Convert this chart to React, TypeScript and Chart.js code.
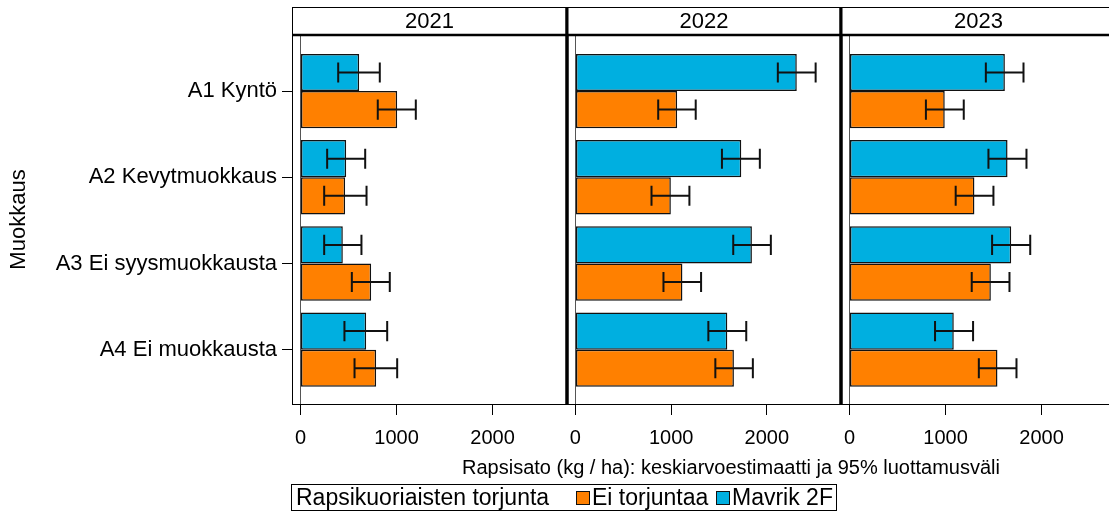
import React, { useEffect, useRef } from "react";
import { Chart, registerables } from "chart.js";

Chart.register(...registerables);

const FONT = "'Liberation Sans', Arial, sans-serif";

const categories = ["A1 Kyntö", "A2 Kevytmuokkaus", "A3 Ei syysmuokkausta", "A4 Ei muokkausta"];
const years = ["2021", "2022", "2023"];
const xTicks = [0, 1000, 2000];
const seriesNames = ["Mavrik 2F", "Ei torjuntaa"];
const legendTitle = "Rapsikuoriaisten torjunta";
const xTitle = "Rapsisato (kg / ha): keskiarvoestimaatti ja 95% luottamusväli";
const yTitle = "Muokkaus";

// 2021
const mavrik2021 = [611, 476, 441, 684];
const mavrikLo2021 = [393, 278, 247, 458];
const mavrikHi2021 = [826, 674, 635, 903];
const ei2021 = [1007, 465, 736, 788];
const eiLo2021 = [805, 247, 535, 563];
const eiHi2021 = [1201, 688, 930, 1007];

// 2022
const mavrik2022 = [2313, 1733, 1844, 1587];
const mavrikLo2022 = [2115, 1531, 1649, 1389];
const mavrikHi2022 = [2510, 1927, 2042, 1785];
const ei2022 = [1063, 997, 1118, 1656];
const eiLo2022 = [865, 795, 920, 1462];
const eiHi2022 = [1257, 1191, 1313, 1854];

// 2023
const mavrik2023 = [1618, 1646, 1684, 1086];
const mavrikLo2023 = [1420, 1447, 1485, 891];
const mavrikHi2023 = [1812, 1843, 1882, 1287];
const ei2023 = [992, 1301, 1472, 1541];
const eiLo2023 = [796, 1106, 1273, 1347];
const eiHi2023 = [1190, 1499, 1666, 1739];

const panels = [
  { year: years[0], mavrik: mavrik2021, mavrikLo: mavrikLo2021, mavrikHi: mavrikHi2021, ei: ei2021, eiLo: eiLo2021, eiHi: eiHi2021 },
  { year: years[1], mavrik: mavrik2022, mavrikLo: mavrikLo2022, mavrikHi: mavrikHi2022, ei: ei2022, eiLo: eiLo2022, eiHi: eiHi2022 },
  { year: years[2], mavrik: mavrik2023, mavrikLo: mavrikLo2023, mavrikHi: mavrikHi2023, ei: ei2023, eiLo: eiLo2023, eiHi: eiHi2023 },
];

const BLUE = "#00AFE0";
const ORANGE = "#FF8000";
const CW = 1130;
const CH = 515;
const panelPads = [
  { left: 0, right: CW - 567 },
  { left: 567, right: CW - 841 },
  { left: 841, right: CW - 1116 },
];

const errorBarsPlugin = {
  id: "errorBars",
  afterDatasetsDraw(chart: any) {
    const ctx = chart.ctx;
    const xs = chart.scales.x;
    ctx.save();
    ctx.strokeStyle = "#111";
    ctx.lineWidth = 2;
    chart.data.datasets.forEach((ds: any, di: number) => {
      const meta = chart.getDatasetMeta(di);
      meta.data.forEach((bar: any, i: number) => {
        const lo = xs.getPixelForValue(ds.lo[i]);
        const hi = xs.getPixelForValue(ds.hi[i]);
        const y = bar.y;
        const cap = bar.height * 0.27;
        ctx.beginPath();
        ctx.moveTo(lo, y);
        ctx.lineTo(hi, y);
        ctx.moveTo(lo, y - cap);
        ctx.lineTo(lo, y + cap);
        ctx.moveTo(hi, y - cap);
        ctx.lineTo(hi, y + cap);
        ctx.stroke();
      });
    });
    ctx.restore();
  },
};

const panelFramePlugin = {
  id: "panelFrame",
  afterDraw(chart: any, _args: any, opts: any) {
    const ctx = chart.ctx;
    const { left, right, top, bottom } = chart.chartArea;
    const hh = 28;
    const hTop = top - hh;
    ctx.save();
    ctx.fillStyle = "#fff";
    ctx.fillRect(left, hTop, right - left, hh);
    ctx.strokeStyle = "#000";
    ctx.lineWidth = 1;
    ctx.beginPath();
    ctx.moveTo(left, hTop + 0.5);
    ctx.lineTo(right, hTop + 0.5);
    ctx.moveTo(left, bottom + 0.5);
    ctx.lineTo(right, bottom + 0.5);
    if (!opts.thickLeft) {
      ctx.moveTo(left + 0.5, hTop);
      ctx.lineTo(left + 0.5, bottom + 1);
    }
    ctx.stroke();
    ctx.lineWidth = 2.5;
    ctx.beginPath();
    ctx.moveTo(left, top);
    ctx.lineTo(right, top);
    ctx.stroke();
    ctx.lineWidth = 3;
    ctx.beginPath();
    if (opts.thickLeft) {
      ctx.moveTo(left, hTop);
      ctx.lineTo(left, bottom + 1);
    }
    if (opts.thickRight) {
      ctx.moveTo(right, hTop);
      ctx.lineTo(right, bottom + 1);
    }
    ctx.stroke();
    ctx.fillStyle = "#000";
    ctx.font = `22px ${FONT}`;
    ctx.textAlign = "center";
    ctx.textBaseline = "middle";
    ctx.fillText(opts.title, (left + right) / 2, hTop + hh / 2 + 1);
    ctx.restore();
  },
};

function makeConfig(pi: number): any {
  const p = panels[pi];
  const showY = pi === 0;
  return {
    type: "bar",
    data: {
      datasets: [
        {
          label: seriesNames[0],
          data: p.mavrik.map((v, k) => ({ x: v, y: k + 1 })),
          lo: p.mavrikLo,
          hi: p.mavrikHi,
          backgroundColor: BLUE,
          borderColor: "#111",
          borderWidth: 1.5,
          borderSkipped: false,
        },
        {
          label: seriesNames[1],
          data: p.ei.map((v, k) => ({ x: v, y: k + 1 })),
          lo: p.eiLo,
          hi: p.eiHi,
          backgroundColor: ORANGE,
          borderColor: "#111",
          borderWidth: 1.5,
          borderSkipped: false,
        },
      ],
    },
    options: {
      responsive: false,
      animation: false,
      indexAxis: "y",
      categoryPercentage: 0.862,
      barPercentage: 1,
      layout: { padding: { left: panelPads[pi].left, right: panelPads[pi].right, top: 35, bottom: 0 } },
      scales: {
        x: {
          type: "linear",
          min: -88,
          max: 2775,
          afterBuildTicks: (s: any) => {
            s.ticks = xTicks.map((v) => ({ value: v }));
          },
          afterFit: (s: any) => {
            s.height = 111;
          },
          grid: {
            drawOnChartArea: true,
            color: (c: any) => (c.tick && c.tick.value === 0 ? "#555" : "rgba(0,0,0,0)"),
            tickColor: "#000",
            tickLength: 11,
            lineWidth: 1,
          },
          border: { display: false },
          ticks: {
            color: "#000",
            font: { family: FONT, size: 20 },
            padding: 11,
            maxRotation: 0,
            autoSkip: false,
            callback: (v: any) => String(v),
          },
        },
        y: {
          type: "linear",
          reverse: true,
          offset: false,
          min: 0.35,
          max: 4.63,
          display: showY,
          afterBuildTicks: (s: any) => {
            s.ticks = categories.map((_, k) => ({ value: k + 1 }));
          },
          afterFit: (s: any) => {
            if (showY) s.width = 292;
          },
          grid: { drawOnChartArea: false, offset: false, tickLength: 10, tickColor: "#000" },
          border: { display: false },
          ticks: {
            color: "#000",
            font: { family: FONT, size: 22 },
            padding: 5,
            autoSkip: false,
            callback: (v: any) => categories[Math.round(v) - 1],
          },
          title: {
            display: true,
            text: yTitle,
            color: "#000",
            font: { family: FONT, size: 22 },
            padding: { top: 6, bottom: 0 },
          },
        },
      },
      plugins: {
        legend: { display: false },
        tooltip: { enabled: false },
        panelFrame: { title: p.year, thickLeft: pi > 0, thickRight: pi < 2 },
      },
    },
    plugins: [errorBarsPlugin, panelFramePlugin],
  };
}

export default function App() {
  const r0 = useRef<HTMLCanvasElement>(null);
  const r1 = useRef<HTMLCanvasElement>(null);
  const r2 = useRef<HTMLCanvasElement>(null);

  useEffect(() => {
    const refs = [r0, r1, r2];
    const charts = refs.map((r, i) => new Chart(r.current as HTMLCanvasElement, makeConfig(i)));
    return () => charts.forEach((c) => c.destroy());
  }, []);

  const canvasStyle: React.CSSProperties = { position: "absolute", left: 0, top: 0, width: CW, height: CH };
  const textStyle: React.CSSProperties = { fontFamily: FONT, fontSize: 20, color: "#000", whiteSpace: "nowrap", lineHeight: "24px" };
  const legendText: React.CSSProperties = { ...textStyle, fontSize: 23, lineHeight: "25px", position: "absolute", top: 0 };
  const square = (color: string, left: number): React.CSSProperties => ({
    position: "absolute",
    left,
    top: 6,
    width: 12,
    height: 12,
    background: color,
    border: "1px solid #111",
  });

  return (
    <div style={{ position: "absolute", left: 0, top: 0, width: 1109, height: 515, overflow: "hidden", background: "#fff" }}>
      <canvas ref={r0} width={CW} height={CH} style={canvasStyle} />
      <canvas ref={r1} width={CW} height={CH} style={canvasStyle} />
      <canvas ref={r2} width={CW} height={CH} style={canvasStyle} />
      <div style={{ ...textStyle, position: "absolute", left: 731, top: 455, transform: "translateX(-50%)" }}>{xTitle}</div>
      <div
        style={{
          position: "absolute",
          left: 291,
          top: 484,
          width: 546,
          height: 27,
          border: "1px solid #000",
          boxSizing: "border-box",
        }}
      >
        <div style={{ ...legendText, left: 4 }}>{legendTitle}</div>
        <div style={square(ORANGE, 284)} />
        <div style={{ ...legendText, left: 300 }}>{seriesNames[1]}</div>
        <div style={square(BLUE, 424)} />
        <div style={{ ...legendText, left: 440 }}>{seriesNames[0]}</div>
      </div>
    </div>
  );
}
